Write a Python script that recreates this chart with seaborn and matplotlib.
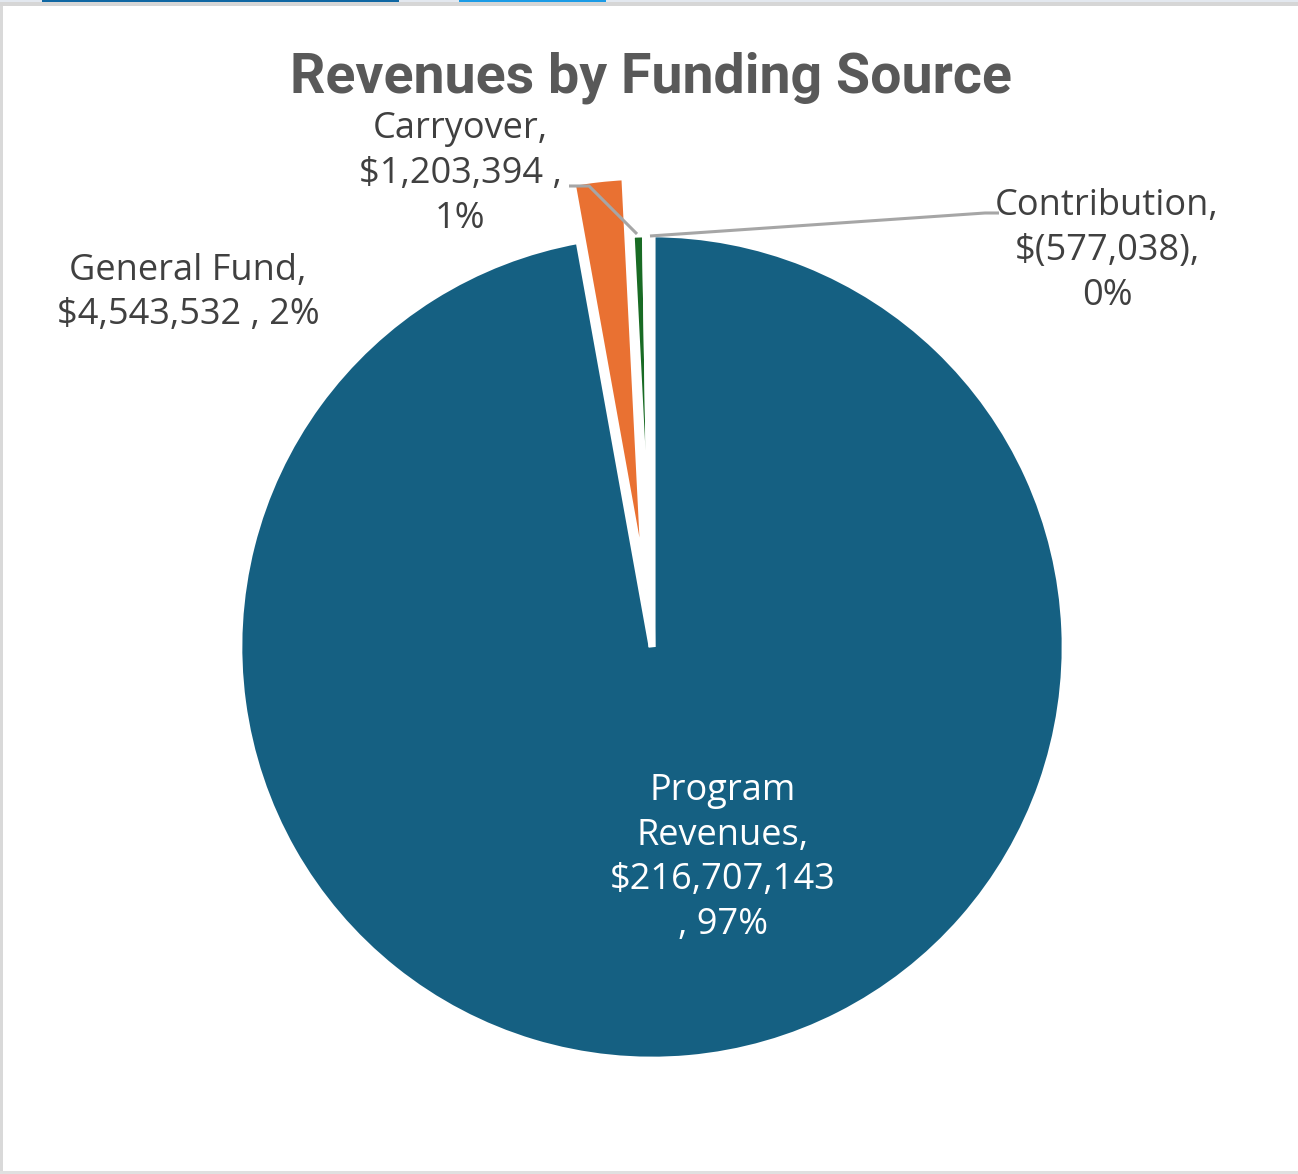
import numpy as np
import matplotlib
matplotlib.use("Agg")
import matplotlib.pyplot as plt
from matplotlib.patches import Rectangle
import seaborn as sns

# Funding sources and their amounts (negative = net outflow)
categories = ["Program Revenues", "General Fund", "Carryover", "Contribution"]
amounts = [216707143, 4543532, 1203394, -577038]
slice_colors = ["#156082", "#E97132", "#196B24", "#FFFFFF"]
title = "Revenues by Funding Source"

sns.set_theme(style="white")
plt.rcParams["font.family"] = ["Open Sans", "DejaVu Sans"]

W, H = 1298, 1174
fig = plt.figure(figsize=(W / 100, H / 100), dpi=100)
fig.patch.set_facecolor("white")
ax = fig.add_axes([0, 0, 1, 1])


def P(x, y):
    """Screen-style (top-left origin) coordinates to axes data coordinates."""
    return x, H - y


sizes = np.abs(np.array(amounts, dtype=float))
share = sizes / sizes.sum()
palette = sns.color_palette(slice_colors)

cx, cy = P(652, 647)
radius = 413
explode_px = [0, 58, 0, 0]

ax.pie(sizes, colors=palette, startangle=90, counterclock=False,
       center=(cx, cy), radius=radius, explode=explode_px,
       wedgeprops=dict(edgecolor="white", linewidth=4.8), frame=True)
ax.set_xlim(0, W)
ax.set_ylim(0, H)
ax.set_aspect("equal")
ax.axis("off")


def money(v):
    s = f"${abs(v):,.0f}"
    return f"$({abs(v):,.0f})" if v < 0 else s


pct = [f"{round(100 * s):.0f}%" for s in share]

label_color = "#404040"
fs = 26
lsp = 1.32

# Program Revenues (inside the big slice)
ax.text(*P(723, 858), f"Program\nRevenues,\n{money(amounts[0])}\n, {pct[0]}",
        ha="center", va="center", color="white", fontsize=fs, linespacing=lsp)
# General Fund
ax.text(*P(188, 293), f"General Fund,\n{money(amounts[1])} , {pct[1]}",
        ha="center", va="center", color=label_color, fontsize=fs, linespacing=lsp)
# Carryover
ax.text(*P(460, 174), f"Carryover,\n{money(amounts[2])} ,\n{pct[2]}",
        ha="center", va="center", color=label_color, fontsize=fs, linespacing=lsp)
# Contribution
ax.text(*P(1107, 251), f"Contribution,\n{money(amounts[3])},\n{pct[3]}",
        ha="center", va="center", color=label_color, fontsize=fs, linespacing=lsp)

# Leader lines
lead = dict(color="#A6A6A6", lw=2.2, solid_capstyle="butt")
ax.plot(*zip(P(569, 186), P(589, 186), P(637, 234)), **lead)
ax.plot(*zip(P(650, 236), P(985, 213), P(999, 213)), **lead)

# Title
ax.text(*P(651, 78), title, ha="center", va="center", color="#595959",
        fontsize=40, fontweight="bold",
        family=["Roboto", "DejaVu Sans"])

# Window frame
fig.patches.append(Rectangle((0, 1 - 2 / H), 1, 2 / H, transform=fig.transFigure,
                             facecolor="#E3E8EF", edgecolor="none"))
fig.patches.append(Rectangle((42 / W, 1 - 2 / H), 357 / W, 2 / H, transform=fig.transFigure,
                             facecolor="#0F67A3", edgecolor="none"))
fig.patches.append(Rectangle((459 / W, 1 - 2 / H), 147 / W, 2 / H, transform=fig.transFigure,
                             facecolor="#1B9BE6", edgecolor="none"))
fig.patches.append(Rectangle((0, 1 - 6 / H), 1, 4 / H, transform=fig.transFigure,
                             facecolor="#D6D6D6", edgecolor="none"))
fig.patches.append(Rectangle((0, 0), 3 / W, 1 - 6 / H, transform=fig.transFigure,
                             facecolor="#D9D9D9", edgecolor="none"))
fig.patches.append(Rectangle((0, 0), 1, 3 / H, transform=fig.transFigure,
                             facecolor="#E0E0E0", edgecolor="none"))

fig.savefig("out.png", dpi=100, facecolor="white")
